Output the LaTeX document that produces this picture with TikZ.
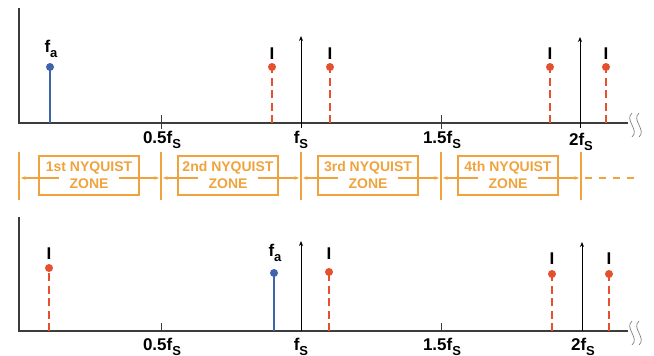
\documentclass[tikz,border=0pt]{standalone}
\usepackage{fontspec}
\setmainfont{Liberation Sans}
\usetikzlibrary{arrows.meta}
\definecolor{axisgray}{HTML}{3C3C3C}
\definecolor{sigblue}{HTML}{3F64AE}
\definecolor{imgred}{HTML}{E5502E}
\definecolor{zoneorange}{HTML}{F0A33C}
\newcommand\subS[1]{\raisebox{-0.3em}{\fontsize{13}{13}\selectfont #1}}
\tikzset{
  axisline/.style={draw=axisgray, line width=1.1pt},
  ticklbl/.style={font=\fontsize{17}{18}\selectfont\bfseries, inner sep=0pt},
  marklbl/.style={font=\fontsize{17}{18}\selectfont\bfseries, inner sep=0pt},
  bluestem/.style={draw=sigblue, line width=2.2pt},
  redstem/.style={draw=imgred, line width=2.2pt, dash pattern=on 8pt off 4.5pt},
  bluedot/.style={circle, fill=sigblue, inner sep=0pt, minimum size=8pt},
  reddot/.style={circle, fill=imgred, inner sep=0pt, minimum size=8pt},
  fsarrow/.style={draw=black, line width=0.8pt, -{Stealth[length=5pt,width=4pt]}},
  zonebox/.style={draw=zoneorange, line width=1.1pt, minimum width=100pt, minimum height=39pt, inner sep=0pt},
  zonetxt/.style={text=zoneorange, font=\fontsize{14}{15}\selectfont\bfseries, inner sep=0pt},
  zoneline/.style={draw=zoneorange, line width=1.1pt},
  zonearrow/.style={draw=zoneorange, line width=1.1pt, -{Stealth[length=4.5pt,width=3.5pt]}},
  squig/.style={draw=gray, line width=0.7pt},
}
\begin{document}
\begin{tikzpicture}[x=1pt,y=-1pt]
\useasboundingbox (0,0) rectangle (654,356);

% ---------------- top panel ----------------
\coordinate (t0) at (19,8);
\coordinate (tO) at (19,123);
\coordinate (tE) at (628,123);
\draw[axisline] (t0) -- (tO) -- (tE);
% squiggle
\draw[squig] (632,113) .. controls (624,120) and (640,130) .. (632,137);
\draw[squig] (639,113) .. controls (631,120) and (647,130) .. (639,137);
% ticks
\coordinate (tk1a) at (161,115); \coordinate (tk1b) at (161,129);
\coordinate (tk3a) at (441,115); \coordinate (tk3b) at (441,129);
\draw[axisline, line width=0.9pt] (tk1a) -- (tk1b);
\draw[axisline, line width=0.9pt] (tk3a) -- (tk3b);
% tick labels
\node[ticklbl] (tl1) at (162,140) {0.5f\subS{S}};
\node[ticklbl] (tl2) at (301,140) {f\subS{S}};
\node[ticklbl] (tl3) at (442,140) {1.5f\subS{S}};
\node[ticklbl] (tl4) at (581,142) {2f\subS{S}};
% fs arrows
\coordinate (tf1b) at (301,128); \coordinate (tf1t) at (301,36);
\coordinate (tf2b) at (580,128); \coordinate (tf2t) at (580,37);
\draw[fsarrow] (tf1b) -- (tf1t);
\draw[fsarrow] (tf2b) -- (tf2t);
% signal fa
\coordinate (ta) at (50,123);
\node[bluedot] (tad) at (50,67) {};
\draw[bluestem] (ta) -- (tad.center);
\node[marklbl] (tal) at (51,49) {f\subS{a}};
% images
\foreach \x/\n in {272/1,330/2,550/3,606/4}{
  \coordinate (ti\n) at (\x,123);
  \draw[redstem] (ti\n) -- (\x,69);
  \node[reddot] (tid\n) at (\x,67) {};
  \node[marklbl] (til\n) at (\x,54) {I};
}

% ---------------- Nyquist zones ----------------
\foreach \x/\n in {19/0,161/1,301/2,441/3,581/4}{
  \coordinate (zt\n) at (\x,152);
  \coordinate (zb\n) at (\x,200);
  \draw[zoneline] (zt\n) -- (zb\n);
  \coordinate (za\n) at (\x,178);
}
\foreach \c/\n/\t/\l/\r in {89/1/1st/0/1, 228/2/2nd/1/2, 368/3/3rd/2/3, 508/4/4th/3/4}{
  \node[zonebox] (zbox\n) at (\c,175.5) {};
  \node[zonetxt] (zn\n) at (\c,168) {\t\ NYQUIST};
  \node[zonetxt] (zz\n) at (\c,184) {ZONE};
  \coordinate (zl\n) at (\c-30,178);
  \coordinate (zr\n) at (\c+30,178);
  \draw[zonearrow] (zl\n) -- ([xshift=2pt]za\l);
  \draw[zonearrow] (zr\n) -- ([xshift=-2pt]za\r);
}
\coordinate (zd1) at (585,178); \coordinate (zd2) at (636,178);
\draw[zoneline, dash pattern=on 7pt off 7pt] (zd1) -- (zd2);

% ---------------- bottom panel ----------------
\coordinate (b0) at (19,217);
\coordinate (bO) at (19,331);
\coordinate (bE) at (628,331);
\draw[axisline] (b0) -- (bO) -- (bE);
\draw[squig] (632,321) .. controls (624,328) and (640,338) .. (632,345);
\draw[squig] (639,321) .. controls (631,328) and (647,338) .. (639,345);
\coordinate (bk1a) at (161,323); \coordinate (bk1b) at (161,331);
\coordinate (bk3a) at (441,323); \coordinate (bk3b) at (441,331);
\draw[axisline, line width=0.9pt] (bk1a) -- (bk1b);
\draw[axisline, line width=0.9pt] (bk3a) -- (bk3b);
\node[ticklbl] (bl1) at (162,347) {0.5f\subS{S}};
\node[ticklbl] (bl2) at (301,347) {f\subS{S}};
\node[ticklbl] (bl3) at (442,347) {1.5f\subS{S}};
\node[ticklbl] (bl4) at (583,347) {2f\subS{S}};
\coordinate (bf1b) at (301,331); \coordinate (bf1t) at (301,241);
\coordinate (bf2b) at (582,331); \coordinate (bf2t) at (582,242);
\draw[fsarrow] (bf1b) -- (bf1t);
\draw[fsarrow] (bf2b) -- (bf2t);
% signal fa
\coordinate (ba) at (274,331);
\node[bluedot] (bad) at (274,273) {};
\draw[bluestem] (ba) -- (bad.center);
\node[marklbl] (bal) at (275,253) {f\subS{a}};
% images
\foreach \x/\y/\ly/\n in {49/268/254/1,329/272/254/2,552/274/259/3,609/274/259/4}{
  \coordinate (bi\n) at (\x,331);
  \draw[redstem] (bi\n) -- (\x,\y+2);
  \node[reddot] (bid\n) at (\x,\y) {};
  \node[marklbl] (bil\n) at (\x,\ly) {I};
}
\end{tikzpicture}
\end{document}
